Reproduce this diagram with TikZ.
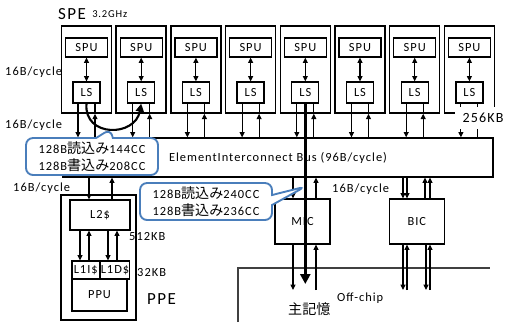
\documentclass[tikz,border=0pt]{standalone}
\usepackage{fontspec}
\setmainfont{Carlito}[LetterSpace=8]
\newfontfamily\jafont{Noto Sans CJK JP}
\usepackage{tikz}
\usetikzlibrary{arrows.meta, positioning, calc, shapes.callouts}
\definecolor{calloutblue}{HTML}{4A7EBB}
\newcommand{\jatext}[1]{{\jafont\fontsize{12}{13}\selectfont #1}}
\tikzstyle{spebox} = [draw, rectangle, line width=1.3pt, minimum width=1.5cm, minimum height=2.61cm, inner sep=0pt]
\tikzstyle{unitbox} = [draw, rectangle, line width=1.1pt, fill=white, inner sep=0pt]
\tikzstyle{busbox} = [draw, rectangle, line width=1.1pt, fill=white, minimum width=12.9cm, minimum height=1.17cm, inner sep=0pt]
\tikzstyle{bubble} = [rectangle callout, draw=calloutblue, line width=1.6pt, rounded corners=6pt, fill=white, minimum width=3.96cm, minimum height=1.11cm, align=center, inner sep=0pt]
\tikzstyle{lbl} = [inner sep=0pt, anchor=west]
\tikzstyle{wire} = [line width=0.9pt]
\tikzstyle{arrw} = [line width=0.9pt, -{Triangle[length=1.6mm, width=1.5mm]}]
\tikzstyle{dblarrw} = [line width=0.9pt, {Triangle[length=1.6mm, width=1.5mm]}-{Triangle[length=1.6mm, width=1.5mm]}]
\tikzstyle{bigarrw} = [line width=2.4pt, -{Triangle[length=3mm, width=3mm]}]
\tikzstyle{curvearrw} = [line width=1.8pt, -{Triangle[length=2.4mm, width=2.4mm]}]
\begin{document}
\begin{tikzpicture}[x=0.03cm, y=-0.03cm, font=\fontsize{10.6}{13}\selectfont]
    \useasboundingbox (0,0) rectangle (511,322);

    % Bus
    \node (bus) [busbox] at (278,157.5) {ElementInterconnect Bus (96B/cycle)};

    % SPE
    \foreach \i in {1,...,8} {
        \pgfmathsetmacro\cx{86.5+54.7*(\i-1)}
        \pgfmathsetmacro\dx{\cx-8.5}
        \pgfmathsetmacro\ux{\cx+8.5}
        \node (spe\i) [spebox] at (\cx,69.5) {};
        \node (spu\i) [unitbox, minimum width=1.26cm, minimum height=0.57cm] at (\cx,47.5) {SPU};
        \node (ls\i) [unitbox, minimum width=0.81cm, minimum height=0.63cm] at (\cx,92.5) {LS};
        \draw [dblarrw] (spu\i) -- (ls\i);
        \draw [arrw] (\dx,0 |- ls\i.south) -- (\dx,0 |- bus.north);
        \draw [wire] (\ux,0 |- ls\i.south) -- (\ux,0 |- spe\i.south);
        \draw [arrw] (\ux,0 |- bus.north) -- (\ux,0 |- spe\i.south);
    }
    \node (spelbl) [lbl, font=\fontsize{14.5}{16}\selectfont] at (58,14) {SPE};
    \node (clklbl) [lbl, font=\fontsize{9}{11}\selectfont, right=0.18cm of spelbl] {3.2GHz};
    \node (lsize) [fill=white, inner sep=0pt, minimum width=1.68cm, minimum height=0.66cm, font=\fontsize{12}{14}\selectfont] at (483,118) {256KB};

    % MIC, BIC
    \coordinate (offa) at (238,322);
    \coordinate (offb) at (238,268);
    \coordinate (offc) at (490,268);
    \coordinate (offbot) at (0,290);
    \coordinate (memtip) at (0,284);
    \draw [line width=0.9pt, black!75] (offa) -- (offb) -- (offc);
    \node (mic) [unitbox, minimum width=1.65cm, minimum height=1.35cm] at (302.5,221.5) {MIC};
    \node (bic) [unitbox, minimum width=1.65cm, minimum height=1.35cm, right=1.74cm of mic] {BIC};
    \draw [arrw] (293,0 |- bus.south) -- (293,0 |- mic.north);
    \draw [arrw] (316,0 |- mic.north) -- (316,0 |- bus.south);
    \draw [arrw] (293,0 |- mic.south) -- (293,0 |- offbot);
    \draw [arrw] (316,0 |- offbot) -- (316,0 |- mic.south);
    \foreach \x in {403,407} \draw [arrw] (\x,0 |- bus.south) -- (\x,0 |- bic.north);
    \foreach \x in {425,430} \draw [arrw] (\x,0 |- bic.north) -- (\x,0 |- bus.south);
    \foreach \x in {403,426} \draw [arrw] (\x,0 |- bic.south) -- (\x,0 |- offbot);
    \foreach \x in {407,430} \draw [arrw] (\x,0 |- offbot) -- (\x,0 |- bic.south);
    \node (bwd) [lbl] at (332,189) {16B/cycle};
    \node (offlbl) [lbl] at (337,298) {Off-chip};
    \node (memlbl) [lbl, font=\jafont\fontsize{12}{14}\selectfont] at (288,309) {主記憶};

    % PPE
    \node (ppe) [draw, line width=1.3pt, minimum width=2.25cm, minimum height=3.75cm, inner sep=0pt] at (98.5,257.5) {};
    \node (ltwo) [unitbox, minimum width=1.8cm, minimum height=0.9cm] at (100,215) {L2\$};
    \node (lonei) [unitbox, minimum width=0.825cm, minimum height=0.54cm] at (85.75,270) {L1I\$};
    \node (loned) [unitbox, minimum width=0.825cm, minimum height=0.54cm, right=0pt of lonei] {L1D\$};
    \node (ppu) [unitbox, minimum width=1.65cm, minimum height=0.96cm] at (99.5,295) {PPU};
    \draw [arrw] (89,0 |- bus.south) -- (89,0 |- ltwo.north);
    \draw [arrw] (112,0 |- ltwo.north) -- (112,0 |- bus.south);
    \foreach \x in {80,108} \draw [arrw] (\x,0 |- ltwo.south) -- (\x,0 |- lonei.north);
    \foreach \x in {89,117} \draw [arrw] (\x,0 |- lonei.north) -- (\x,0 |- ltwo.south);
    \node (ltwosize) [lbl] at (129,237) {512KB};
    \node (lonesize) [lbl] at (137,273) {32KB};
    \node (ppelbl) [lbl, font=\fontsize{14.5}{16}\selectfont] at (147,299) {PPE};

    % bandwidth labels
    \node (bwa) [lbl] at (5,72) {16B/cycle};
    \node (bwb) [lbl] at (5,125) {16B/cycle};
    \node (bwc) [lbl] at (13,188) {16B/cycle};

    % transfers
    \draw [bigarrw] (ls5.south) -- coordinate[pos=0.46] (bustap) (ls5.south |- memtip);
    \draw [curvearrw] (ls1.south) to[out=-95, in=-100, looseness=1.6] coordinate[pos=0.5] (arcbot) (ls2.south);
    \node (rdspe) [bubble, callout absolute pointer={(arcbot)}, callout pointer width=0.5cm] at (92,156.5) {128B\jatext{読込み}144CC\\[1pt]128B\jatext{書込み}208CC};
    \node (rdmem) [bubble, callout absolute pointer={(bustap)}, callout pointer width=0.3cm] at (206,201.5) {128B\jatext{読込み}240CC\\[1pt]128B\jatext{書込み}236CC};
\end{tikzpicture}
\end{document}
